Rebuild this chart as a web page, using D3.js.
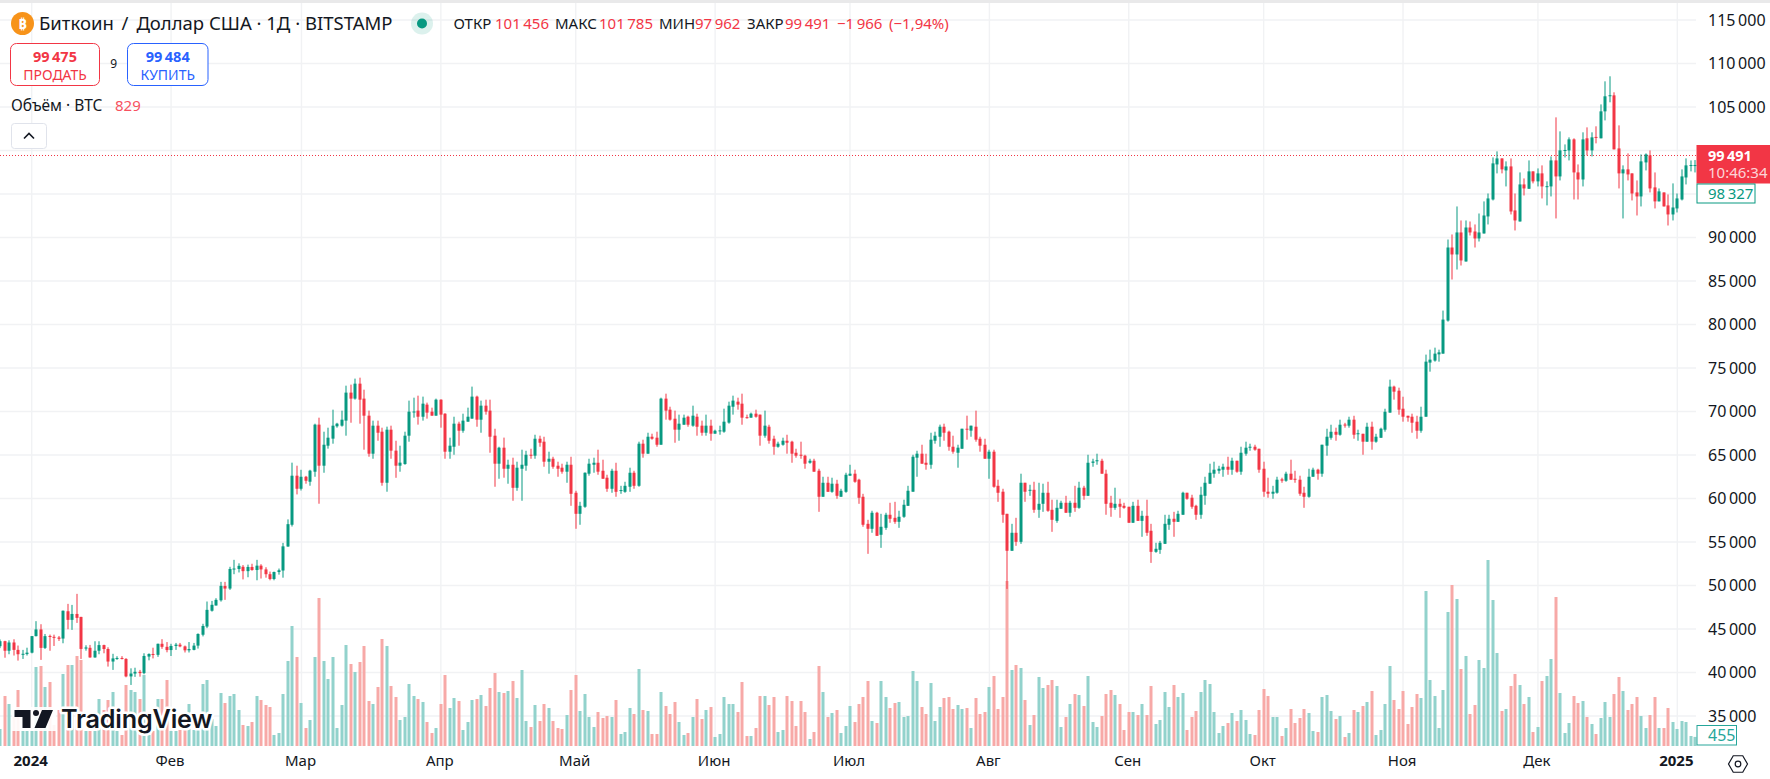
<!DOCTYPE html>
<html>
<head>
<meta charset="utf-8">
<script src="https://cdn.jsdelivr.net/npm/d3@7/dist/d3.min.js"></script>
<style>
  html, body { margin: 0; padding: 0; background: #fff; overflow: hidden; }
  text { font-family: "Noto Sans", sans-serif; }
</style>
</head>
<body>
<div id="graph"></div>
<script>
// daily candles, 25 Dec 2023 .. 5 Jan 2025
var firstDay = new Date(Date.UTC(2023, 11, 25));
var lastDay = new Date(Date.UTC(2025, 0, 6));

var opens = [
43020,43600,42500,43450,42600,42050,42120,42280,44180,44950,
42830,44200,44100,44020,43900,47040,46050,46730,46390,42750,
42840,41730,42500,43150,42700,41260,41620,41670,41560,39550,
39880,40080,39930,41830,42130,42030,43300,42950,42580,43050,
43200,43000,42550,42600,43090,44340,45280,47100,47700,48300,
49950,49650,51850,51900,52150,51650,52130,51780,52280,51850,
51300,50750,51550,51720,54480,56980,62620,61120,62500,61930,
63080,68490,63770,66070,66880,68300,68370,68950,72170,71480,
73200,71480,69520,65150,68370,67680,61810,67910,65500,63770,
63960,67220,69900,70100,69400,70790,69980,69520,71360,69750,
65380,65950,68600,67790,68830,69180,71710,69060,70670,70100,
67220,64000,65840,63420,63880,61230,63420,63770,65030,64920,
66870,66530,64230,64570,63770,63540,63080,63880,60660,58240,
59050,62850,63880,64110,63190,62390,61120,63190,60860,60770,
61350,62960,61460,66300,65150,67100,66990,66180,71480,70210,
69170,67910,68480,69400,68370,69400,68370,67560,68370,67450,
67790,67680,68720,70550,71130,70900,69350,69290,69750,69640,
67220,68250,66870,65950,66180,66640,66530,65260,65030,64920,
64110,64340,63190,60200,61810,60770,61700,60200,60770,62620,
62850,62160,60200,57090,56520,58360,55830,56630,58130,57780,
57320,57900,59160,60780,64690,65150,64110,63880,66640,67100,
68250,67680,65950,65260,65720,68020,67800,68250,66870,66180,
64570,65380,61460,60780,58240,53990,56060,55020,61810,60900,
61000,58700,59390,60660,58700,57430,58820,59510,58360,59510,
58930,61240,60310,64100,64280,64340,62850,59510,58930,59390,
59160,59050,57210,59160,57430,58010,56290,53870,54100,54790,
56980,57670,57320,58130,60660,60090,59160,58130,60310,61700,
62850,63190,63310,63650,63310,64340,63080,65150,65840,65950,
65720,63420,60780,60550,60660,62200,62040,62850,62270,62160,
60660,60200,62500,63310,62850,66070,66980,67670,67330,68500,
68370,69060,67440,67440,66530,68250,66530,66980,67910,69870,
72860,72390,70320,69510,69400,68830,67790,69400,75620,75850,
76570,76650,80450,88850,88050,90580,87240,91150,90690,89890,
90460,92420,94370,98400,99090,97710,98170,93110,91840,96100,
95600,97600,96450,97370,95800,95870,98860,97020,99980,100010,
101280,97480,96670,101400,100010,101560,101400,104500,106250,106340,
100240,97370,97830,97370,95180,94720,98630,99440,95760,94150,
95180,93690,92650,93340,94370,96900,98230,98250];

var highs = [
43800,43650,43700,43820,43100,42600,42850,44200,45900,45550,
44430,44360,44350,44200,47120,47890,47770,49040,46400,43130,
43170,43590,43590,43200,42900,42150,41870,41880,41650,40480,
40550,40300,42210,42200,42850,43320,43830,43500,43300,43400,
43400,43100,43500,43400,44500,45600,48160,48230,48540,50420,
50420,52150,52950,52550,52350,52400,52500,52950,52450,52100,
51600,51600,51950,54900,57600,64120,63770,63300,62600,63300,
68600,69290,67680,68140,70210,68700,70100,72970,73090,73780,
73890,72510,70100,68950,68950,68140,68260,68370,66640,66070,
67680,71250,71590,71820,71710,71020,70440,71480,71400,69800,
66990,69400,68830,69750,70440,72860,71820,71250,71360,71360,
68020,65950,67000,64460,64690,64230,65610,65490,65720,67330,
67220,67100,65380,64800,64230,64000,64230,64800,60890,59620,
63000,64570,64690,65610,64460,62730,63420,64110,61460,61925,
63540,63190,66530,66760,67560,67450,67680,71590,72050,70550,
70100,69640,69640,69520,70670,69750,68950,69640,69060,67910,
68370,70325,71130,71820,71590,72050,69640,69870,70210,69640,
70100,68480,67220,66530,66990,67330,66640,65720,66530,65030,
64570,64570,63420,62500,62500,62390,62150,61120,62960,63880,
63310,62270,60540,57550,58590,58470,58240,58360,59510,59620,
58590,59860,61460,65030,65490,66180,65150,67560,67680,68490,
68600,67800,67220,66180,68020,69520,68370,70100,67100,66870,
65610,65610,62160,61120,58240,57090,57780,62850,61810,61580,
61925,61810,61700,61925,59860,59860,59740,60310,59740,61460,
61925,61460,65030,64570,65150,64570,63310,60310,61240,59970,
59510,59050,59620,59860,58590,59860,57090,54910,55130,58130,
58130,58470,58590,60780,60660,60430,59280,61350,62500,64000,
64230,63760,64000,64800,64690,64340,65950,66530,66300,66180,
65720,64230,62390,61460,62500,62390,63080,64460,63190,62620,
61350,63420,63540,63420,66180,68020,68480,68140,69060,68700,
69400,69510,67910,67440,68710,68830,67440,68140,70320,73660,
72970,72740,71700,69510,69750,69510,70550,76540,77110,77340,
77110,81600,89770,90350,93570,91960,91960,91840,91500,92760,
94150,95060,99200,99900,99090,98750,99090,95060,97480,96790,
98860,97600,97940,98290,96450,99320,103810,102200,100700,101510,
101400,98400,102090,102660,102090,102780,105300,107950,108530,106690,
102890,98290,99670,97370,96560,99550,99670,100010,97480,95640,
95180,94950,96220,95060,97830,99090,98860,98900];

var lows = [
42800,41700,42100,41950,41370,41560,41950,42200,44150,41450,
42700,42500,43050,43630,43360,44970,44900,45700,41560,42510,
41700,41700,42100,42210,40680,40300,41450,41500,39450,38570,
39500,39520,39800,41400,41620,41800,42720,42320,41900,42600,
42900,42300,42300,42550,42750,44150,45100,47000,47700,48150,
48350,49500,51300,51500,50700,50950,51700,50600,50800,50900,
50600,50600,51250,50900,54450,56780,60470,60920,61700,61470,
62500,59400,62960,65730,66300,68140,68260,67220,68710,71360,
68600,65610,64800,64570,66640,61470,60780,64570,62380,63080,
63880,66530,69290,68490,68950,69180,69520,69520,68140,64570,
64570,65030,66070,67560,68830,69180,68250,67560,69640,65260,
61350,62270,62390,61700,59740,60890,59740,63190,64570,64570,
65950,63650,62850,63420,62500,62850,61810,59160,56520,56980,
58930,62620,62960,62730,62270,60770,60660,60200,60540,60660,
60770,61120,61350,64690,65150,66760,65950,66180,69060,68950,
66410,66640,68480,68250,68250,67220,67220,67220,66640,67450,
67330,67560,68600,69640,70210,68480,69180,69290,69290,66070,
66990,66300,65030,65840,66070,65150,64110,64690,64570,63420,
64000,63080,58470,60200,60770,60660,59970,60200,60660,62620,
61810,59390,56750,53640,56060,55710,54330,56400,57210,57090,
56630,57780,59160,60780,62500,64000,63310,63420,66300,65950,
66640,65490,65150,63540,65720,66760,67100,66530,65380,64570,
62270,61240,59620,57210,49610,53990,54560,54790,59620,60310,
58360,57780,58470,58470,56170,57210,58820,58360,57900,58470,
58820,59860,60310,63650,63880,62850,58130,57900,58700,57780,
58820,57210,57210,57430,55600,55710,52600,53760,53640,54790,
56400,55600,57320,58130,59860,58820,57550,57670,59280,61700,
62390,62850,62500,62730,62730,62960,62730,64920,65490,65490,
62960,60200,60090,59970,60550,61810,61925,62160,61810,60310,
58930,60090,62500,62160,62500,64920,66760,66640,67220,68140,
68140,66870,66640,65030,66530,65610,66410,66980,67680,69870,
71360,69630,68830,68830,67560,66870,67560,69400,74580,75730,
75730,76650,80330,85170,86320,86780,87240,90230,88850,89540,
90460,91500,94260,97370,97370,95870,92650,90810,91840,94830,
95600,96220,95870,94490,93690,94720,92190,96560,99200,98860,
94370,94370,95870,99440,99320,100820,101400,103460,105540,100130,
95640,92190,96560,94260,92530,93570,97710,95180,93340,94150,
93570,91380,91960,92880,94260,96100,97600,97480];

var closes = [
43600,42500,43450,42600,42100,42150,42280,44180,44950,42830,
44180,44100,44000,43870,47100,46050,46730,46280,42710,42880,
41730,42500,43150,42700,41260,41620,41670,41560,39550,39880,
40080,39930,41900,42130,42030,43300,42950,42580,43050,43200,
43000,42550,42700,43090,44430,45350,47200,47780,48350,49960,
49650,51900,51950,52260,51650,52130,51780,52280,51850,51300,
50750,51550,51750,54500,57050,62620,61120,62500,62040,63200,
68490,63770,66180,66990,68370,68600,69060,72170,71480,73200,
71360,69520,65150,68370,67560,61810,67910,65500,63770,64120,
67220,69980,70000,69400,70900,69870,69520,71360,69640,65380,
66070,68600,67790,68950,69400,71710,69060,70670,69980,67100,
64000,65840,63420,63880,61230,63540,63880,65030,64920,66870,
66410,64230,64570,63650,63420,63080,63880,60540,58240,59160,
62960,64000,64110,63080,62270,61120,63190,60770,60970,61460,
62960,61460,66300,65150,67100,66870,66180,71480,70100,69060,
67910,68600,69290,68480,69520,68250,67560,68370,67450,67790,
67830,68830,70670,71250,70790,69290,69250,69750,69400,67220,
68370,66640,65950,66300,66640,66410,65150,64920,64920,64000,
64340,63080,60200,61810,60770,61700,60310,60890,62730,62850,
61925,60085,56980,56520,58360,55710,56750,58130,57670,57320,
57900,59280,60890,64800,65150,64000,63880,66760,67220,68250,
67560,65950,65380,65840,68020,67910,68370,66760,66070,64570,
65380,61350,60660,58130,53990,56060,55020,61810,60780,61000,
58700,59390,60660,58590,57550,58930,59510,58360,59510,58930,
61240,60310,64110,64250,64400,62850,59390,58930,59390,59050,
58930,57210,59160,57430,58010,56060,53870,54220,54910,57090,
57670,57320,58240,60660,59970,59050,58130,60430,61810,62960,
63310,63420,63650,63310,64340,63080,65260,65840,65950,65610,
63310,60780,60550,60780,62160,62050,62850,62160,62150,60550,
60200,62500,63310,62850,66180,67100,67670,67330,68480,68400,
69060,67330,67500,66530,68250,66530,67100,68020,69970,72860,
72280,70210,69400,69290,68710,67790,69400,75730,75960,76650,
76800,80565,88850,88050,90580,87360,91150,90580,89890,90580,
92530,94490,98520,99090,97830,98170,92990,91960,96100,95640,
97600,96450,97370,95870,95900,98860,97020,100010,100060,101280,
97480,96670,101280,100010,101510,101450,104500,106230,106350,100130,
97370,97830,97250,95060,94720,98750,99550,95640,94150,95300,
93570,92650,93450,94490,97020,98290,98330,98327];

var volumes = [
850,2500,2100,1450,2800,750,750,750,3950,4000,
2950,3200,1050,1800,3600,4050,4050,4500,4300,750,
750,750,2350,1800,2300,2700,750,550,3050,2800,
2700,2350,3550,550,750,2350,2350,3300,750,750,
800,800,2100,800,800,3100,3300,1350,1000,2650,
2150,2500,2600,1800,1050,1000,1200,2500,2300,2050,
1950,550,650,2600,4250,6000,4450,2150,900,1300,
4450,7400,4250,3350,4450,900,2050,5050,4100,3700,
4200,5000,2250,2100,2950,5350,5000,3000,2450,1300,
1450,3100,2500,2350,2200,1200,650,900,2100,3550,
1900,2400,2250,800,1200,2300,2350,2550,2000,2900,
3650,2700,2650,2750,3250,2400,3800,1250,950,2050,
1250,2100,1900,1250,900,850,1550,2800,3550,1750,
2600,1450,950,1700,1400,1500,1450,2300,600,700,
1900,1600,3850,1800,1750,600,600,2700,2000,1600,
2200,1200,550,650,1450,2350,1350,1800,1950,450,
600,2450,2100,2100,1700,3200,500,500,900,2500,
2500,2050,2450,700,800,2500,2250,1000,2250,1700,
350,700,4000,2700,1450,1650,1800,650,1000,2000,
1200,2100,2450,3250,1250,1150,3250,2450,1900,2150,
2200,1450,1500,3750,3250,1950,1600,3150,1250,1950,
2400,2450,1850,2050,1850,1900,900,2400,1600,1700,
2950,3500,1850,2450,8250,3800,4050,3900,2300,1050,
1550,3450,2900,3050,3300,3000,950,1450,2100,2600,
2550,2000,3500,1200,950,1500,2600,2800,2550,2100,
800,1700,1700,1550,2100,1550,3000,1100,1300,2700,
1950,3050,2450,2650,800,1450,1750,2700,3300,3100,
1700,650,1000,1150,1650,1250,1800,1300,600,550,
1800,2850,2500,1450,1450,500,900,1850,1150,1400,
1850,1650,750,700,2450,2550,1750,1350,1500,450,
650,1800,1700,2000,2200,2750,550,800,2100,4000,
2300,1850,2750,1100,1950,2600,2400,7750,3300,2500,
900,2800,6700,8050,7350,3850,4500,1600,2050,4300,
3900,9300,7300,4650,1750,1850,3000,3600,3050,2100,
2450,700,950,3250,3500,4350,7450,2650,650,1150,
2500,2150,2250,1450,1100,600,1400,2200,1450,2600,
3450,2750,1800,2100,2450,1500,900,1550,2450,900,
900,1900,1200,850,1250,1200,500,455];

var priceTicks = [35000,40000,45000,50000,55000,60000,65000,70000,75000,80000,85000,90000,95000,100000,105000,110000,115000];
// 95 000 and 100 000 sit under the price tags, so they get a grid line but no label
var hiddenLabels = [95000,100000];
var monthDates = [[2024,0],[2024,1],[2024,2],[2024,3],[2024,4],[2024,5],[2024,6],[2024,7],[2024,8],[2024,9],[2024,10],[2024,11],[2025,0]];
var monthLabels = ["2024","Фев","Мар","Апр","Май","Июн","Июл","Авг","Сен","Окт","Ноя","Дек","2025"];
var lastPrice = 99491, lastClose = 98327, lastVolume = 455;

var width = 1770, height = 779;
var plotRight = 1696, volBase = 746;
var green = "#089981", red = "#f23645";

var days = d3.utcDay.range(firstDay, lastDay);
var candles = days.map(function(day, i){
  return {day: day, open: opens[i], high: highs[i], low: lows[i], close: closes[i], volume: volumes[i]};
});
var tickDays = monthDates.map(function(m){ return new Date(Date.UTC(m[0], m[1], 1)); });

var x = d3.scaleUtc().domain([new Date(Date.UTC(2024, 0, 1)), new Date(Date.UTC(2025, 0, 1))]).range([31.7, 1677.3]);
var y = d3.scaleLinear().domain([35000, 115000]).range([716, 20]);
var yVol = d3.scaleLinear().domain([0, 9300]).range([volBase, volBase - 186]);

var fmt = d3.formatLocale({decimal: ",", thousands: "\u2009", grouping: [3], currency: ["", ""]}).format(",d");

var svg = d3.select("#graph").append("svg")
  .attr("width", width).attr("height", height)
  .style("display", "block");

svg.append("rect").attr("width", width).attr("height", height).attr("fill", "#fff");
svg.append("rect").attr("width", width).attr("height", 3).attr("fill", "#e9e9ea");

// grid
var grid = svg.append("g");
grid.selectAll("line.h").data(priceTicks).enter().append("line")
  .attr("x1", 0).attr("x2", plotRight)
  .attr("y1", function(d){ return y(d); }).attr("y2", function(d){ return y(d); })
  .attr("stroke", "#f1f2f4").attr("stroke-width", 1.4);
grid.selectAll("line.v").data(tickDays).enter().append("line")
  .attr("y1", 3).attr("y2", volBase)
  .attr("x1", function(d){ return x(d); }).attr("x2", function(d){ return x(d); })
  .attr("stroke", "#f1f2f4").attr("stroke-width", 1.4);

function up(d){ return d.close >= d.open; }
function cx(d){ return Math.round(x(d.day)); }

// volume
svg.append("g").selectAll("rect").data(candles).enter().append("rect")
  .attr("x", function(d){ return cx(d) - 1.5; })
  .attr("width", 3)
  .attr("y", function(d){ return yVol(d.volume); })
  .attr("height", function(d){ return volBase - yVol(d.volume); })
  .attr("fill", function(d){ return up(d) ? "#92d2cc" : "#f7a9a7"; });

// dotted last price line
var lastY = Math.round(y(lastPrice)) + 0.5;
svg.append("line")
  .attr("x1", 0).attr("x2", plotRight)
  .attr("y1", lastY).attr("y2", lastY)
  .attr("stroke", red).attr("stroke-width", 1).attr("stroke-dasharray", "1 2");

// candles
var candle = svg.append("g").selectAll("g").data(candles).enter().append("g")
  .attr("fill", function(d){ return up(d) ? green : red; });
candle.append("rect")
  .attr("x", function(d){ return cx(d) - 0.5; })
  .attr("width", 1)
  .attr("y", function(d){ return y(d.high); })
  .attr("height", function(d){ return y(d.low) - y(d.high); });
candle.append("rect")
  .attr("x", function(d){ return cx(d) - 1.5; })
  .attr("width", 3)
  .attr("y", function(d){ return y(Math.max(d.open, d.close)); })
  .attr("height", function(d){ return Math.max(1, Math.abs(y(d.open) - y(d.close))); });

// price axis
var yAxis = svg.append("g")
  .attr("transform", "translate(" + plotRight + ",0)")
  .call(d3.axisRight(y)
    .tickValues(priceTicks.filter(function(p){ return hiddenLabels.indexOf(p) < 0; }))
    .tickSize(0).tickPadding(12).tickFormat(fmt));
yAxis.select(".domain").remove();
yAxis.selectAll("text").attr("font-size", 16).attr("fill", "#131722").style("font-family", '"Noto Sans", sans-serif');

// time axis
var xAxis = svg.append("g")
  .attr("transform", "translate(-1.5,755)")
  .call(d3.axisBottom(x).tickValues(tickDays).tickSize(0).tickPadding(0)
    .tickFormat(function(d, i){ return monthLabels[i]; }));
xAxis.select(".domain").remove();
xAxis.selectAll("text")
  .attr("font-size", 15)
  .attr("fill", "#131722")
  .attr("font-weight", function(d, i){ return monthLabels[i].length == 4 ? 700 : 400; })
  .style("font-family", '"Noto Sans", sans-serif');

// price tags
svg.append("rect").attr("x", 1696.5).attr("y", 145).attr("width", 73.5).attr("height", 38.5).attr("fill", red);
svg.append("text").attr("x", 1708).attr("y", 160.5).attr("font-size", 14.5).attr("font-weight", 700).attr("fill", "#fff").text(fmt(lastPrice));
svg.append("text").attr("x", 1708).attr("y", 178).attr("font-size", 15).attr("fill", "#fff").attr("fill-opacity", 0.8).text("10:46:34");
svg.append("rect").attr("x", 1697).attr("y", 184).attr("width", 58).attr("height", 19).attr("fill", "#fff").attr("stroke", green);
svg.append("text").attr("x", 1708).attr("y", 199).attr("font-size", 15).attr("fill", green).text(fmt(lastClose));
svg.append("rect").attr("x", 1697).attr("y", 725.5).attr("width", 39.5).attr("height", 19.5).attr("fill", "#fff").attr("stroke", "#26a69a");
svg.append("text").attr("x", 1708).attr("y", 741).attr("font-size", 16).attr("fill", "#26a69a").text(lastVolume);

// settings icon
svg.append("path")
  .attr("d", d3.line()(d3.range(6).map(function(i){
    var a = i * Math.PI / 3;
    return [1738 + 9.5 * Math.cos(a), 764 + 9.5 * Math.sin(a)];
  })) + "Z")
  .attr("fill", "none").attr("stroke", "#131722").attr("stroke-width", 1.2);
svg.append("circle").attr("cx", 1738).attr("cy", 764).attr("r", 2.8)
  .attr("fill", "none").attr("stroke", "#131722").attr("stroke-width", 1.2);

// header
var header = svg.append("g");
header.append("circle").attr("cx", 22.5).attr("cy", 23.5).attr("r", 11.5).attr("fill", "#f7931a");
header.append("text").attr("x", 22.5).attr("y", 29).attr("text-anchor", "middle")
  .attr("font-size", 15).attr("font-weight", 700).attr("fill", "#fff").text("₿");
header.append("text").attr("x", 39).attr("y", 30).attr("font-size", 18.5).attr("fill", "#131722")
  .text("Биткоин\u2009 / \u2009Доллар США · 1Д · BITSTAMP");
header.append("circle").attr("cx", 422).attr("cy", 23.5).attr("r", 11).attr("fill", "#089981").attr("fill-opacity", 0.14);
header.append("circle").attr("cx", 422).attr("cy", 23.5).attr("r", 5).attr("fill", "#089981");

var legend = [
  [453.5, "ОТКР", "#131722"], [495, "101\u2009456", red],
  [555, "МАКС", "#131722"], [599, "101\u2009785", red],
  [659, "МИН", "#131722"], [695, "97\u2009962", red],
  [747, "ЗАКР", "#131722"], [785, "99\u2009491", red],
  [837, "−1\u2009966", red], [889, "(−1,94%)", red]
];
header.selectAll("text.ohlc").data(legend).enter().append("text")
  .attr("class", "ohlc")
  .attr("x", function(d){ return d[0]; }).attr("y", 29)
  .attr("font-size", 15).attr("fill", function(d){ return d[2]; })
  .text(function(d){ return d[1]; });

// sell and buy
function tradeBox(x0, w, col, price, label){
  header.append("rect").attr("x", x0).attr("y", 43.5).attr("width", w).attr("height", 42)
    .attr("rx", 6).attr("fill", "#fff").attr("stroke", col);
  header.append("text").attr("x", x0 + w / 2).attr("y", 62).attr("text-anchor", "middle")
    .attr("font-size", 14.5).attr("font-weight", 700).attr("fill", col).text(price);
  header.append("text").attr("x", x0 + w / 2).attr("y", 79.5).attr("text-anchor", "middle")
    .attr("font-size", 14).attr("fill", col).text(label);
}
tradeBox(10.5, 89, red, "99\u2009475", "ПРОДАТЬ");
tradeBox(127.5, 80.5, "#2962ff", "99\u2009484", "КУПИТЬ");
header.append("text").attr("x", 113.7).attr("y", 68).attr("text-anchor", "middle")
  .attr("font-size", 12).attr("fill", "#131722").text("9");

header.append("text").attr("x", 11).attr("y", 111).attr("font-size", 15.5).attr("fill", "#131722").text("Объём · BTC");
header.append("text").attr("x", 115).attr("y", 111).attr("font-size", 15).attr("fill", "#f7525f").text("829");

header.append("rect").attr("x", 11.5).attr("y", 123.5).attr("width", 35).attr("height", 25)
  .attr("rx", 3).attr("fill", "#fff").attr("stroke", "#e0e3eb");
header.append("path").attr("d", "M24 138.5l5-5l5 5").attr("fill", "none")
  .attr("stroke", "#131722").attr("stroke-width", 1.6);

// logo
var logo = svg.append("g");
var logoText = function(stroke){
  var t = logo.append("text").attr("x", 61).attr("y", 728)
    .attr("font-size", 25.2).attr("font-weight", 600).attr("letter-spacing", -0.2)
    .style("font-family", "Inter, sans-serif").text("TradingView");
  if(stroke){
    t.attr("fill", "#fff").attr("stroke", "#fff").attr("stroke-width", 5).attr("stroke-linejoin", "round");
  } else {
    t.attr("fill", "#131722");
  }
};
logoText(true);
logo.append("rect").attr("x", 12).attr("y", 707).attr("width", 44).attr("height", 24).attr("fill", "#fff").attr("fill-opacity", 0.9);
logo.append("path").attr("d", "M14.5 710h16v18h-8v-11h-8zM53 710h-11l-7.5 18h11z").attr("fill", "#131722");
logo.append("circle").attr("cx", 36).attr("cy", 713).attr("r", 3).attr("fill", "#131722");
logoText(false);
</script>
</body>
</html>
